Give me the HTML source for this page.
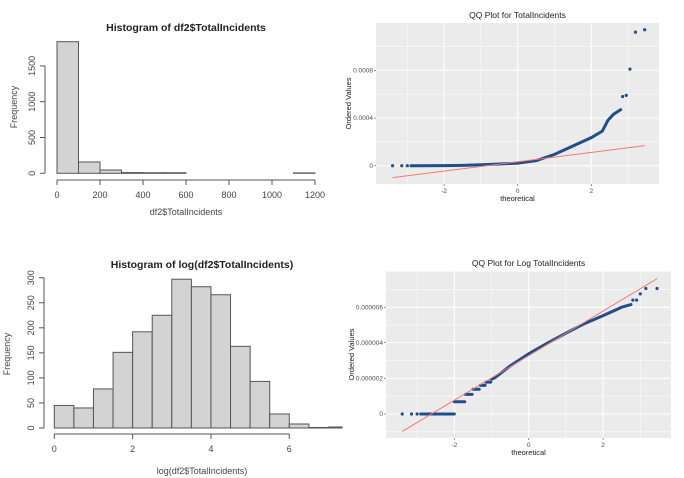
<!DOCTYPE html>
<html><head><meta charset="utf-8"><style>
html,body{margin:0;padding:0;background:#fff}
svg{display:block;font-family:"Liberation Sans",sans-serif}
</style></head><body>
<svg id="s" width="684" height="478" viewBox="0 0 684 478"></svg>
<script>
// ---- Data ----
const h1Breaks=[0,100,200,300,400,500,600,700,800,900,1000,1100,1200];
const h1Counts=[1838,158,46,10,8,8,0,0,0,0,0,5];
const h1XTicks=[0,200,400,600,800,1000,1200];
const h1YTicks=[0,500,1000,1500];

const h2Breaks=[0,0.5,1,1.5,2,2.5,3,3.5,4,4.5,5,5.5,6,6.5,7,7.5];
const h2Counts=[45,40,78,151,192,225,297,282,266,163,93,28,8,1,2];
const h2XTicks=[0,2,4,6];
const h2YTicks=[0,50,100,150,200,250,300];

const q1Runs=[[[-2.9,0],[-2,0.000001],[-1.5,0.000003],[-1,0.000008],[-0.5,0.000014],[0,0.000022],[0.5,0.000042],[1,0.000095],[1.5,0.000165],[2,0.000235],[2.3,0.00029],[2.45,0.00038],[2.6,0.00043],[2.8,0.00047]]];
const q1Points=[[-3.4,0],[-3.15,0],[-3.0,0],[2.85,0.00058],[2.95,0.00059],[3.05,0.00081],[3.2,0.00112],[3.45,0.00114]];
const q1Line=[[-3.4,-0.0001],[3.45,0.000168]];
const q1XTicks=[-2,0,2];
const q1YTicks=[0,0.0004,0.0008];
const q1YLabels=["0","0.0004","0.0008"];

const q2Runs=[[[-2.85,0],[-2,0]],[[-2,0.69e-6],[-1.72,0.69e-6]],[[-1.7,1.1e-6],[-1.52,1.1e-6]],[[-1.5,1.39e-6],[-1.33,1.39e-6]],[[-1.3,1.61e-6],[-1.17,1.61e-6]],[[-1.15,1.79e-6],[-1.02,1.79e-6]],[[-1.0,1.95e-6],[-0.9,2.05e-6],[-0.5,2.7e-6],[0,3.38e-6],[0.5,3.98e-6],[1,4.54e-6],[1.5,5.08e-6],[2,5.53e-6],[2.5,6.0e-6],[2.75,6.15e-6]]];
const q2Points=[[-3.4,0],[-3.15,0],[-3.0,0],[-2.9,0],[2.8,6.4e-6],[2.9,6.4e-6],[3.0,6.75e-6],[3.15,7.05e-6],[3.45,7.05e-6]];
const q2Line=[[-3.4,-0.98e-6],[3.45,7.6e-6]];
const q2XTicks=[-2,0,2];
const q2YTicks=[0,2e-6,4e-6,6e-6];
const q2YLabels=["0","0.000002","0.000004","0.000006"];

const S=document.getElementById('s');
const NS='http://www.w3.org/2000/svg';
function el(tag,attrs,parent,txt){const e=document.createElementNS(NS,tag);for(const k in attrs)e.setAttribute(k,attrs[k]);if(txt!==undefined)e.textContent=txt;(parent||S).appendChild(e);return e;}

function hist(o){
  const g=el('g',{});
  
  
  const sx=v=>o.x0+(v-o.xmin)/(o.xmax-o.xmin)*(o.x1-o.x0);
  const sy=v=>o.yb-(v/o.yunit)*o.ypx;
  o.counts.forEach((c,i)=>{
    const x=sx(o.breaks[i]),w=sx(o.breaks[i+1])-x;
    if(x>o.clip)return;
    const r=el('rect',{x:x,y:sy(c),width:Math.min(w,o.clip-x),height:o.yb-sy(c),fill:'#d3d3d3',stroke:'#555','stroke-width':1},g);
    
    
  });
  const xa=el('g',{},g);
  
  
  const t0=o.xticks[0],t1=o.xticks[o.xticks.length-1];
  el('line',{x1:sx(t0),x2:sx(t1),y1:o.axy,y2:o.axy,stroke:'#555'},xa);
  o.xticks.forEach(t=>{el('line',{x1:sx(t),x2:sx(t),y1:o.axy,y2:o.axy+5,stroke:'#555'},xa);
    el('text',{x:sx(t),y:o.axy+18,'text-anchor':'middle','font-size':9,fill:'#444'},xa,String(t));});
  const ya=el('g',{},g);
  
  
  const yt=o.yticks;
  el('line',{x1:o.axx,x2:o.axx,y1:sy(yt[0]),y2:sy(yt[yt.length-1]),stroke:'#555'},ya);
  yt.forEach(t=>{el('line',{x1:o.axx,x2:o.axx-5,y1:sy(t),y2:sy(t),stroke:'#555'},ya);
    el('text',{x:o.axx-10,y:sy(t),'text-anchor':'middle','font-size':9,fill:'#444',transform:`rotate(-90 ${o.axx-10} ${sy(t)})`},ya,String(t));});
  const tt=el('text',{x:o.tx,y:o.ty,'text-anchor':'middle','font-size':10.5,'font-weight':'bold',fill:'#222'},g,o.title);
  
  
  const xl=el('text',{x:o.tx,y:o.xly,'text-anchor':'middle','font-size':9,fill:'#444'},g,o.xlabel);
  
  
  const yl=el('text',{x:o.ylx,y:o.yly,'text-anchor':'middle','font-size':9,fill:'#444',transform:`rotate(-90 ${o.ylx} ${o.yly})`},g,'Frequency');
  
  
}

function qq(o){
  const g=el('g',{});
  
  
  const sx=v=>o.cx0+v*o.xpu;
  const sy=v=>o.cy0-v*o.ypu;
  el('rect',{x:o.px0,y:o.py0,width:o.px1-o.px0,height:o.py1-o.py0,fill:'#ebebeb'},g);
  // grid
  const xs=o.xticks, ys=o.yticks;
  const dx=xs[1]-xs[0], dy=ys[1]-ys[0];
  for(let v=xs[0]-dx;v<=xs[xs.length-1]+dx;v+=dx/2){const X=sx(v);if(X<o.px0||X>o.px1)continue;
    const major=xs.some(t=>Math.abs(t-v)<1e-9);
    el('line',{x1:X,x2:X,y1:o.py0,y2:o.py1,stroke:'#fff','stroke-width':major?1:0.5},g);}
  for(let v=ys[0]-dy;v<=ys[ys.length-1]+dy*1.5;v+=dy/2){const Y=sy(v);if(Y<o.py0||Y>o.py1)continue;
    const major=ys.some(t=>Math.abs(t-v)<dy*1e-6);
    el('line',{x1:o.px0,x2:o.px1,y1:Y,y2:Y,stroke:'#fff','stroke-width':major?1:0.5},g);}
  const col='#1f4e8c';
  o.runs.forEach((run,i)=>{
    const pl=el('polyline',{points:run.map(p=>sx(p[0])+','+sy(p[1])).join(' '),fill:'none',stroke:col,'stroke-width':3,'stroke-linecap':'round'},g);
    
    
  });
  o.points.forEach((p,i)=>{
    const c=el('circle',{cx:sx(p[0]),cy:sy(p[1]),r:1.6,fill:col},g);
    
    
  });
  const ln=el('line',{x1:sx(o.line[0][0]),y1:sy(o.line[0][1]),x2:sx(o.line[1][0]),y2:sy(o.line[1][1]),stroke:'#f8766d','stroke-width':1},g);
  
  
  xs.forEach(t=>{el('line',{x1:sx(t),x2:sx(t),y1:o.py1,y2:o.py1+2,stroke:'#333','stroke-width':0.5},g);
    el('text',{x:sx(t),y:o.py1+9,'text-anchor':'middle','font-size':6.5,fill:'#4d4d4d'},g,String(t));});
  ys.forEach((t,i)=>{el('line',{x1:o.px0-2,x2:o.px0,y1:sy(t),y2:sy(t),stroke:'#333','stroke-width':0.5},g);
    el('text',{x:o.px0-3,y:sy(t)+2.2,'text-anchor':'end','font-size':6.5,fill:'#4d4d4d'},g,o.ylabels[i]);});
  const tt=el('text',{x:(o.px0+o.px1)/2,y:o.ty,'text-anchor':'middle','font-size':8.5,fill:'#222'},g,o.title);
  
  
  const xl=el('text',{x:(o.px0+o.px1)/2,y:o.py1+17,'text-anchor':'middle','font-size':7.5,fill:'#222'},g,'theoretical');
  
  
  const yly=(o.py0+o.py1)/2;
  const yl=el('text',{x:o.ylx,y:yly,'text-anchor':'middle','font-size':7.5,fill:'#222',transform:`rotate(-90 ${o.ylx} ${yly})`},g,'Ordered Values');
  
  
}

hist({name:'histogram-raw',breaks:h1Breaks,counts:h1Counts,xticks:h1XTicks,yticks:h1YTicks,
  x0:57,x1:315,xmin:0,xmax:1200,yb:173.3,yunit:500,ypx:35.8,axy:180,axx:45,clip:999,
  title:'Histogram of df2$TotalIncidents',tx:186,ty:31,xlabel:'df2$TotalIncidents',xly:215,ylx:17,yly:107});
hist({name:'histogram-log',breaks:h2Breaks,counts:h2Counts,xticks:h2XTicks,yticks:h2YTicks,
  x0:54.3,x1:289.3,xmin:0,xmax:6,yb:428,yunit:50,ypx:25.05,axy:434,axx:44,clip:342,
  title:'Histogram of log(df2$TotalIncidents)',tx:202,ty:268,xlabel:'log(df2$TotalIncidents)',xly:474,ylx:10,yly:354});
qq({name:'qq-plot-raw',runs:q1Runs,points:q1Points,line:q1Line,xticks:q1XTicks,yticks:q1YTicks,ylabels:q1YLabels,
  px0:376,px1:659,py0:23,py1:184,cx0:517.7,xpu:36.8,cy0:165.7,ypu:47.7/0.0004,ty:18,ylx:351,title:'QQ Plot for TotalIncidents'});
qq({name:'qq-plot-log',runs:q2Runs,points:q2Points,line:q2Line,xticks:q2XTicks,yticks:q2YTicks,ylabels:q2YLabels,
  px0:386,px1:671,py0:271,py1:438,cx0:528.7,xpu:37.2,cy0:414,ypu:35.6/2e-6,ty:266,ylx:354,title:'QQ Plot for Log TotalIncidents'});
</script>
</body></html>
